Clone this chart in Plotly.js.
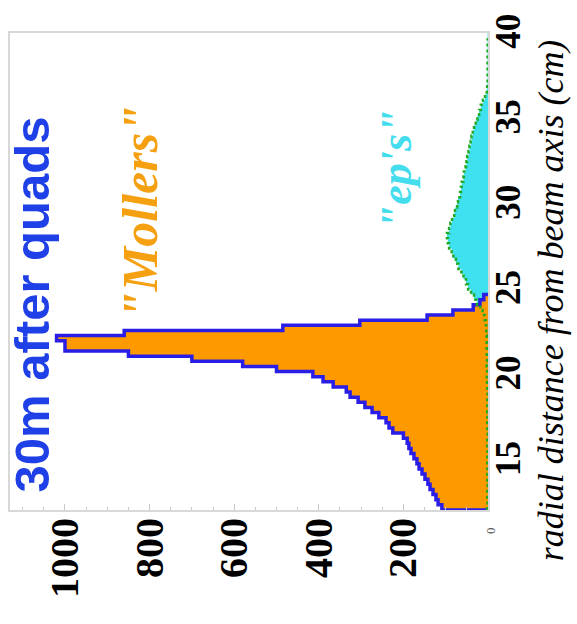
<!DOCTYPE html>
<html>
<head>
<meta charset="utf-8">
<script src="https://cdn.plot.ly/plotly-3.0.1.min.js"></script>
<style>html,body{margin:0;padding:0;background:#fff;}#chart{width:577px;height:624px;}</style>
</head>
<body>
<div id="chart"></div>
<script>
// Histogram binning (radial distance, cm)
const binStart = 12.3;
const binWidth = 0.3;

// "Mollers" histogram counts per bin (from 12.3 cm)
const mollerCounts = [109,118,123,130,137,142,149,156,163,168,175,182,187,191,
  200,225,234,241,258,274,291,307,
  326,335,366,390,414,500,580,700,850,1000,1000,1020,860,485,303,144,83,35,19,10];

// "ep's" histogram counts per bin (from 12.3 cm)
const epCounts = [2,1,2,2,1,2,2,1,2,2,2,1,2,2,1,2,2,2,1,2,2,2,1,2,2,3,2,2,3,2,3,3,3,3,4,4,
  5,8,13,18,26,33,40,47,52,58,63,70,76,82,86,92,95,97,92,89,85,80,78,73,71,66,64,62,58,57,
  53,51,49,46,44,41,39,36,33,29,25,21,17,12,7,3,
  2,1,1,1,1,1,1,1,1,1,1];

// Axis ticks
const countTicks = [200,400,600,800,1000];
const radialTicks = [15,20,25,30,35,40];

function stepTrace(counts){
  const xs=[0], ys=[binStart];
  for(let i=0;i<counts.length;i++){ xs.push(counts[i]); ys.push(binStart+i*binWidth); }
  xs.push(0); ys.push(binStart+counts.length*binWidth);
  return {x:xs, y:ys};
}
const m = stepTrace(mollerCounts);
const e = stepTrace(epCounts);

const traces = [
  {x:e.x, y:e.y, type:'scatter', mode:'lines', line:{shape:'vh', width:0, color:'#3fe0ef'},
   fill:'tozerox', fillcolor:'#3fe0ef', hoverinfo:'skip', showlegend:false},
  {x:m.x, y:m.y, type:'scatter', mode:'lines', line:{shape:'vh', width:3.5, color:'#2a1ee6'},
   fill:'tozerox', fillcolor:'#ff9900', hoverinfo:'skip', showlegend:false},
  {x:e.x.slice(1,-1), y:e.y.slice(1,-1), type:'scatter', mode:'lines', line:{shape:'vh', width:2.5, color:'#22aa22', dash:'dot'},
   hoverinfo:'skip', showlegend:false}
];

const serifBold = {family:'Liberation Serif, Times New Roman, serif', size:40, color:'#000', weight:'bold'};

const layout = {
  width:577, height:624,
  margin:{l:10, r:89, t:33, b:114},
  paper_bgcolor:'#fff', plot_bgcolor:'#fff',
  showlegend:false,
  xaxis:{
    range:[1130,0], tickvals:countTicks, tickangle:-90,
    tickfont:serifBold, ticks:'inside', ticklen:6, tickcolor:'#c8c8c8', tickwidth:1,
    minor:{dtick:50, ticks:'inside', ticklen:3, tickcolor:'#c8c8c8'},
    ticklabelstandoff:-10,
    showline:true, linecolor:'#d8d8d8', linewidth:2, mirror:true,
    showgrid:false, zeroline:false
  },
  yaxis:{
    range:[12.3,40.2], tickvals:radialTicks, side:'right', tickangle:-90,
    tickfont:Object.assign({}, serifBold, {size:35}), ticks:'',
    ticklabelstandoff:-12,
    showline:true, linecolor:'#d8d8d8', linewidth:2, mirror:true,
    showgrid:false, zeroline:false
  },
  annotations:[
    {text:'30m after quads', xref:'paper', yref:'paper', x:0.045, y:0.43, textangle:-90,
     showarrow:false, xanchor:'center', yanchor:'middle',
     font:{family:'Liberation Sans, Arial, sans-serif', size:49, color:'#1f40e6', weight:'bold'}},
    {text:'"Mollers"', xref:'paper', yref:'paper', x:0.272, y:0.625, textangle:-90,
     showarrow:false, xanchor:'center', yanchor:'middle',
     font:{family:'Liberation Serif, Times New Roman, serif', size:50, color:'#f5a011', weight:'bold', style:'italic'}},
    {text:'"ep\'s"', xref:'paper', yref:'paper', x:0.81, y:0.715, textangle:-90,
     showarrow:false, xanchor:'center', yanchor:'middle',
     font:{family:'Liberation Serif, Times New Roman, serif', size:44, color:'#44ddee', weight:'bold', style:'italic'}},
    {text:'radial distance from beam axis (cm)', xref:'paper', yref:'paper', x:1.132, y:0.44, textangle:-90,
     showarrow:false, xanchor:'center', yanchor:'middle',
     font:{family:'Liberation Serif, Times New Roman, serif', size:36, color:'#000', style:'italic'}},
    {text:'0', xref:'paper', yref:'paper', x:1.004, y:-0.042, textangle:-90,
     showarrow:false, xanchor:'center', yanchor:'middle',
     font:{family:'Liberation Serif, Times New Roman, serif', size:13, color:'#555'}}
  ]
};

Plotly.newPlot('chart', traces, layout, {staticPlot:true, displayModeBar:false});
</script>
</body>
</html>
